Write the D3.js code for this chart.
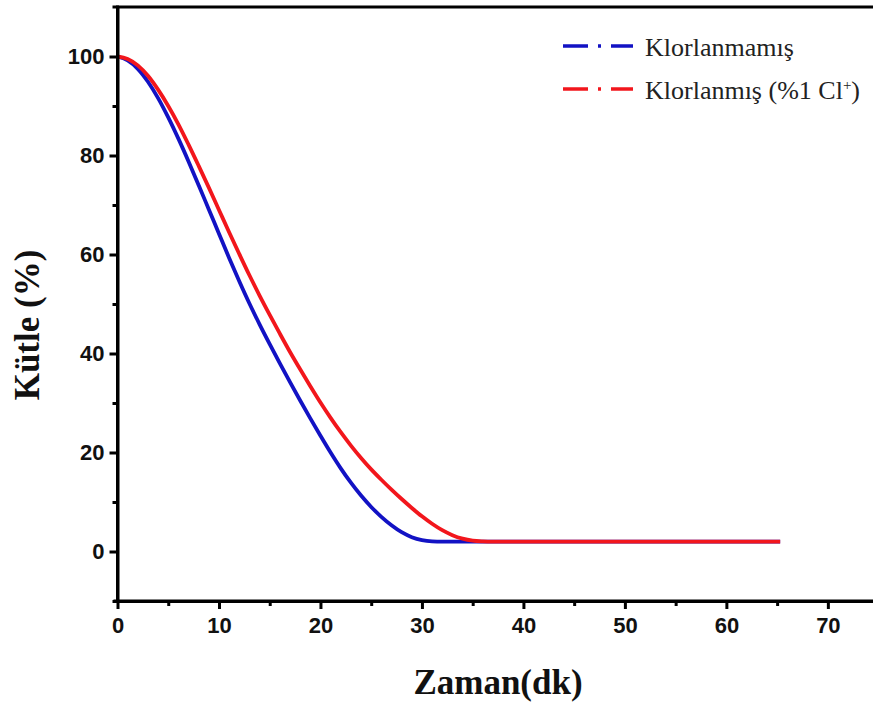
<!DOCTYPE html>
<html><head><meta charset="utf-8">
<script src="https://cdn.jsdelivr.net/npm/d3@7"></script>
<style>html,body{margin:0;padding:0;background:#fff;}svg{display:block;}</style>
</head><body>
<svg id="c" width="873" height="704"></svg>
<script>
const seriesNames = ["Klorlanmamış", "Klorlanmış (%1 Cl⁺)"];
const blueTime = [0,1,2,3,4,5,6,7,8,9,10,11,12,13,14,15,16,17,18,19,20,21,22,23,24,25,26,27,28,29,30,31,32,35,40,50,60,65.3];
const blueMass = [100,99.2,97.5,94.9,91.6,87.7,83.4,78.8,74.0,69.1,64.2,59.3,54.6,50.1,45.9,41.9,38.0,34.2,30.5,26.9,23.4,20.0,16.8,13.9,11.3,9.0,7.0,5.3,3.9,2.9,2.3,2.05,2,2,2,2,2,2];
const redTime = [0,1,2,3,4,5,6,7,8,9,10,11,12,13,14,15,16,17,18,19,20,21,22,23,24,25,26,27,28,29,30,31,32,33,34,35,36,37,40,50,60,65.3];
const redMass = [100,99.5,98.2,96.1,93.3,90.0,86.3,82.2,77.9,73.5,69.0,64.5,60.1,55.8,51.7,47.8,44.0,40.3,36.8,33.4,30.1,27.0,24.1,21.4,18.9,16.6,14.5,12.5,10.6,8.8,7.1,5.6,4.3,3.3,2.6,2.2,2.05,2,2,2,2,2];
const xTicks = [0,10,20,30,40,50,60,70];
const xMinor = [5,15,25,35,45,55,65,75];
const yTicks = [0,20,40,60,80,100];
const yMinor = [-10,10,30,50,70,90];
const xLabel = "Zaman(dk)";
const yLabel = "Kütle (%)";

const colors = ["#1212c4", "#f2161c"];
const svg = d3.select("#c");
const x = d3.scaleLinear().domain([0,75]).range([117.5, 878.6]);
const y = d3.scaleLinear().domain([-10,110]).range([601, 7]);

// curves
const line = d3.line().x(d=>x(d[0])).y(d=>y(d[1])).curve(d3.curveMonotoneX);
const blue = blueTime.map((t,i)=>[t, blueMass[i]]);
const red = redTime.map((t,i)=>[t, redMass[i]]);
svg.append("path").datum(blue).attr("d", line).attr("fill","none")
  .attr("stroke", colors[0]).attr("stroke-width", 3.8);
svg.append("path").datum(red).attr("d", line).attr("fill","none")
  .attr("stroke", colors[1]).attr("stroke-width", 3.8);

// axes
const axW = 3;
const gx = svg.append("g").attr("transform", `translate(0,${y(-10)})`);
gx.call(d3.axisBottom(x).tickValues(xTicks).tickSize(8).tickPadding(8).tickSizeOuter(0));
const gxm = svg.append("g").attr("transform", `translate(0,${y(-10)})`);
gxm.call(d3.axisBottom(x).tickValues(xMinor).tickSize(5).tickFormat("").tickSizeOuter(0));
const gy = svg.append("g").attr("transform", `translate(${x(0)},0)`);
gy.call(d3.axisLeft(y).tickValues(yTicks).tickSize(8).tickPadding(5).tickSizeOuter(0));
const gym = svg.append("g").attr("transform", `translate(${x(0)},0)`);
gym.call(d3.axisLeft(y).tickValues(yMinor).tickSize(5).tickFormat("").tickSizeOuter(0));
[gx,gxm,gy,gym].forEach(g=>{
  g.select(".domain").attr("stroke","#000").attr("stroke-width",axW);
  g.selectAll(".tick line").attr("stroke","#000").attr("stroke-width",3);
  g.selectAll(".tick text").attr("fill","#111")
    .style("font-family","'Liberation Sans', Arial, sans-serif")
    .style("font-weight","bold").style("font-size","22px");
});
gx.select(".domain").attr("d", `M${x(0)-4},0H873`);
gy.select(".domain").attr("d", `M0,${y(110)-1.5}V${y(-10)+1.5}`);
// top frame line
svg.append("line").attr("x1", x(0)-5).attr("x2", 873).attr("y1", y(110)).attr("y2", y(110))
  .attr("stroke","#000").attr("stroke-width",axW);

// axis labels
svg.append("text").attr("x", 498).attr("y", 694).attr("text-anchor","middle")
  .style("font-family","'Liberation Serif','Times New Roman',serif").style("font-weight","bold")
  .style("font-size","35px").attr("fill","#111").text(xLabel);
svg.append("text").attr("transform","translate(39,325) rotate(-90)").attr("text-anchor","middle")
  .style("font-family","'Liberation Serif','Times New Roman',serif").style("font-weight","bold")
  .style("font-size","35px").attr("fill","#111").text(yLabel);

// legend
const legY = [46, 89];
seriesNames.forEach((name,i)=>{
  const g = svg.append("g").attr("transform", `translate(0,${legY[i]})`);
  g.append("line").attr("x1",563).attr("x2",633).attr("y1",0).attr("y2",0)
    .attr("stroke",colors[i]).attr("stroke-width",3.4).attr("stroke-dasharray","25 10 3 10 25");
  const t = g.append("text").attr("x",645).attr("y",10)
    .style("font-family","'Liberation Serif','Times New Roman',serif")
    .style("font-size","26px").attr("fill","#222");
  if (name.includes("⁺")) {
    const base = name.replace("⁺)", "");
    t.append("tspan").text(base);
    t.append("tspan").attr("dy",-9).style("font-size","15px").text("+");
    t.append("tspan").attr("dy",9).text(")");
  } else {
    t.text(name);
  }
});
</script>
</body></html>
